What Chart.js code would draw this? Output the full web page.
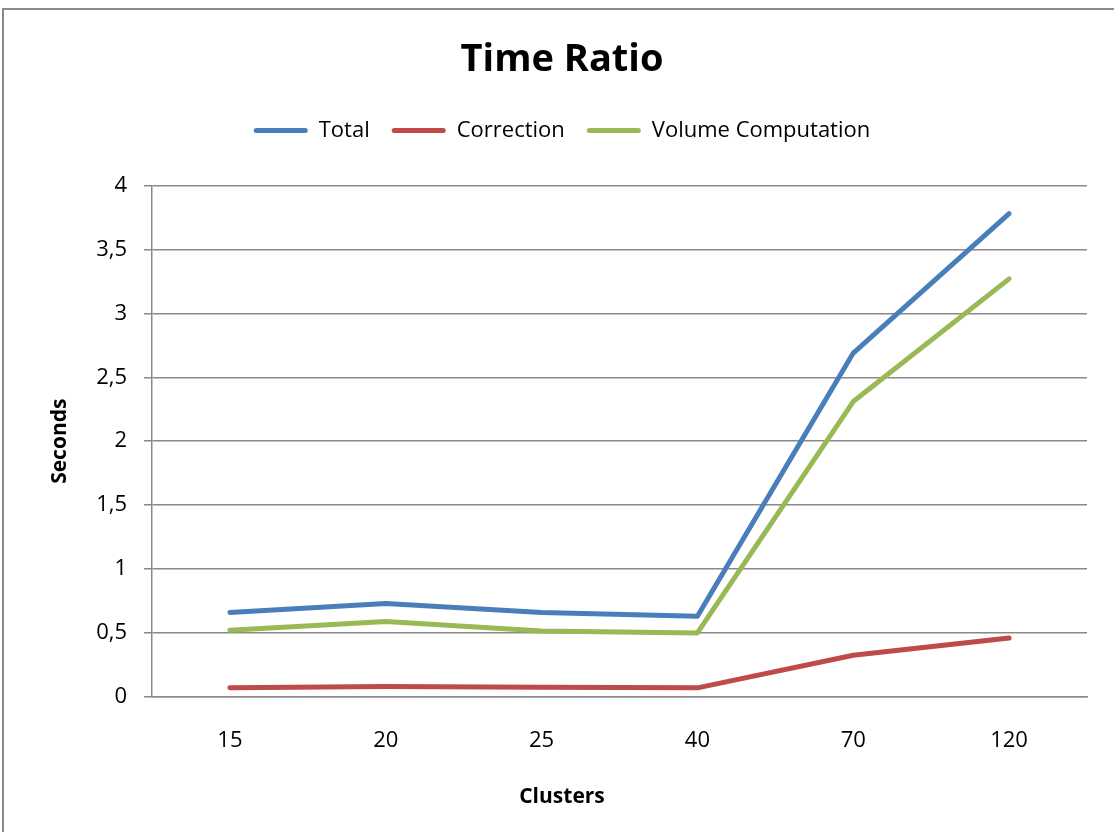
<!DOCTYPE html>
<html>
<head>
<meta charset="utf-8">
<script src="https://cdn.jsdelivr.net/npm/chart.js@4/dist/chart.umd.min.js"></script>
<style>
    html, body { margin: 0; padding: 0; background: #fff; overflow: hidden; }
    #frame {
        position: absolute; left: 2px; top: 8px;
        width: 1300px; height: 1000px;
        border: 2px solid #8a8a8a;
    }
    #wrap { position: absolute; left: 0; top: 0; width: 1114px; height: 832px; }
</style>
</head>
<body>
<div id="frame"></div>
<div id="wrap"><canvas id="ratioChart" width="1114" height="832"></canvas></div>
<script>
// ======================
// Data
// ======================
const clusters = ["15", "20", "25", "40", "70", "120"];
const totalTime = [0.66, 0.73, 0.66, 0.63, 2.69, 3.78];
const correctionTime = [0.07, 0.08, 0.075, 0.07, 0.325, 0.46];
const volumeTime = [0.52, 0.59, 0.515, 0.50, 2.31, 3.27];
const yTickLabels = ["0", "0,5", "1", "1,5", "2", "2,5", "3", "3,5", "4"];

const FONT = "'Open Sans', 'DejaVu Sans', sans-serif";
const GRID = "#898989";

// extra space under legend (chart.js has no legend margin option)
const legendMargin = {
    id: "legendMargin",
    beforeInit(chart) {
        const origFit = chart.legend.fit;
        chart.legend.fit = function () {
            origFit.bind(chart.legend)();
            this.height += 34;
        };
    }
};

function line(label, data, color) {
    return {
        label: label,
        data: data,
        borderColor: color,
        backgroundColor: color,
        borderWidth: 5,
        pointRadius: 0,
        tension: 0,
        borderCapStyle: "round",
        borderJoinStyle: "round"
    };
}

const ctx = document.getElementById("ratioChart").getContext("2d");
new Chart(ctx, {
    type: "line",
    data: {
        labels: clusters,
        datasets: [
            line("Total", totalTime, "#4A7EBB"),
            line("Correction", correctionTime, "#BE4B48"),
            line("Volume Computation", volumeTime, "#98B954")
        ]
    },
    plugins: [legendMargin],
    options: {
        responsive: false,
        animation: false,
        layout: { padding: { left: 37, right: 27, top: 0, bottom: 0 } },
        plugins: {
            title: {
                display: true,
                text: "Time Ratio",
                color: "#000",
                font: { family: FONT, size: 38, weight: "bold" },
                padding: { top: 37, bottom: 15 }
            },
            // x axis title, centred on the whole chart like in Excel
            subtitle: {
                display: true,
                position: "bottom",
                text: "Clusters",
                color: "#000",
                font: { family: FONT, size: 21, weight: "bold" },
                padding: { top: 0, bottom: 22 }
            },
            legend: {
                display: true,
                position: "top",
                labels: {
                    color: "#000",
                    font: { family: FONT, size: 22 },
                    boxWidth: 54,
                    boxHeight: 5,
                    padding: 22,
                    generateLabels(chart) {
                        const items = Chart.defaults.plugins.legend.labels.generateLabels(chart);
                        items.forEach(it => {
                            it.lineWidth = 0;
                            it.borderRadius = 2.5;
                        });
                        return items;
                    }
                }
            },
            tooltip: { enabled: false }
        },
        scales: {
            x: {
                offset: true,
                grid: { display: false, drawTicks: false },
                border: { display: true, color: GRID, width: 1.5 },
                ticks: {
                    color: "#000",
                    font: { family: FONT, size: 22 },
                    padding: 31
                },
                afterFit(scale) { scale.height = 88; }
            },
            y: {
                min: 0,
                max: 4,
                grid: {
                    color: GRID,
                    lineWidth: 1.5,
                    drawTicks: true,
                    tickLength: 8,
                    tickColor: GRID
                },
                border: { display: true, color: GRID, width: 1.5 },
                ticks: {
                    stepSize: 0.5,
                    color: "#000",
                    font: { family: FONT, size: 22 },
                    padding: 17,
                    callback: (v, i) => yTickLabels[i]
                },
                title: {
                    display: true,
                    text: "Seconds",
                    color: "#000",
                    font: { family: FONT, size: 21, weight: "bold" },
                    padding: { top: 10, bottom: 0 }
                },
                afterFit(scale) { scale.width = 115; }
            }
        }
    }
});
</script>
</body>
</html>
